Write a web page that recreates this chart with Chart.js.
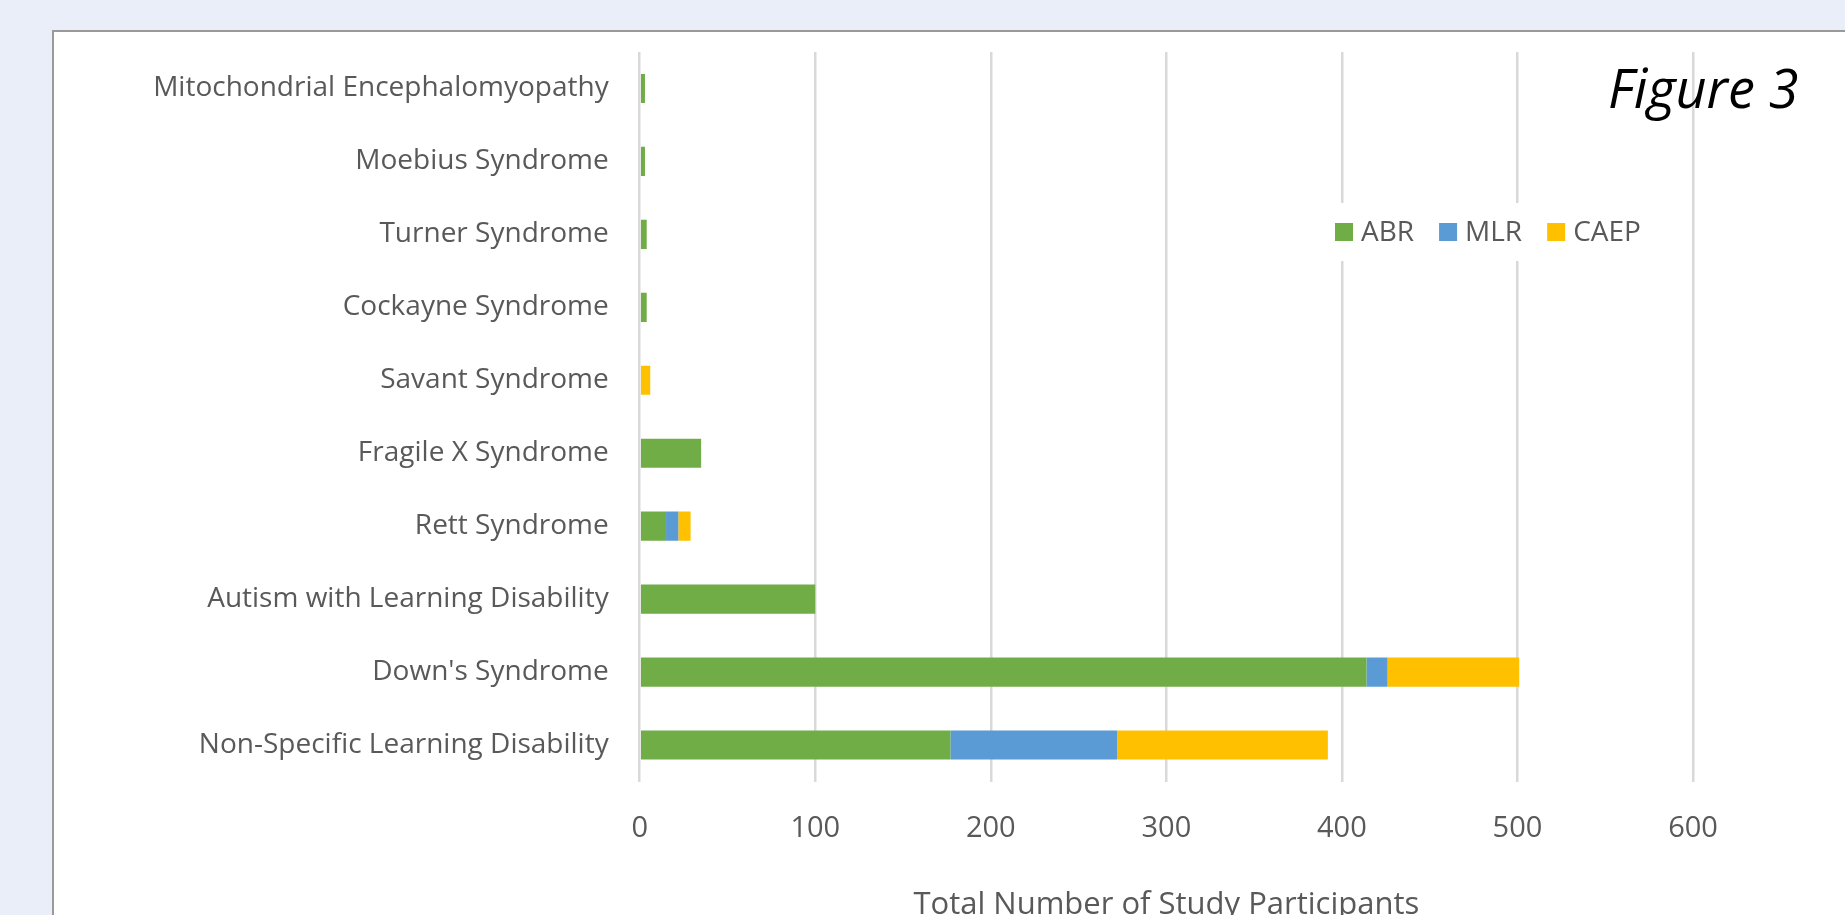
<!DOCTYPE html>
<html>
<head>
<meta charset="utf-8">
<script src="https://cdn.jsdelivr.net/npm/chart.js@4.4.1/dist/chart.umd.min.js"></script>
<style>
  html, body { margin: 0; padding: 0; width: 1845px; height: 915px; overflow: hidden; background: #e9eef9; }
  #panel { position: absolute; left: 52px; top: 30px; width: 1820px; height: 920px; background: #ffffff; border-left: 2px solid #9a9a9a; border-top: 2px solid #9a9a9a; }
  #c { position: absolute; left: 0; top: 0; }
</style>
</head>
<body>
<div id="panel"></div>
<canvas id="c" width="1845" height="915"></canvas>
<script>
const categories = [
  'Mitochondrial Encephalomyopathy',
  'Moebius Syndrome',
  'Turner Syndrome',
  'Cockayne Syndrome',
  'Savant Syndrome',
  'Fragile X Syndrome',
  'Rett Syndrome',
  'Autism with Learning Disability',
  "Down's Syndrome",
  'Non-Specific Learning Disability'
];
const abrValues  = [3, 3, 4, 4, 0, 35, 15, 100, 414, 177];
const mlrValues  = [0, 0, 0, 0, 0, 0, 7, 0, 12, 95];
const caepValues = [0, 0, 0, 0, 6, 0, 7, 0, 75, 120];
const seriesNames = ['ABR', 'MLR', 'CAEP'];
const seriesColors = ['#70AD47', '#5B9BD5', '#FFC000'];
const xTickValues = [0, 100, 200, 300, 400, 500, 600];
const xAxisTitle = 'Total Number of Study Participants';
const figureLabel = 'Figure 3';

const FONT = '"Open Sans", "Noto Sans", sans-serif';
const TEXT = '#595959';

const overlayPlugin = {
  id: 'overlay',
  afterDraw(chart) {
    const ctx = chart.ctx;
    ctx.save();
    ctx.font = '28px ' + FONT;
    const box = 18, gapText = 8, gapItem = 25;
    let x = 1335;
    const cy = 232;
    const widths = seriesNames.map(n => ctx.measureText(n).width);
    const total = widths.reduce((a, w) => a + box + gapText + w, 0) + gapItem * (seriesNames.length - 1);
    ctx.fillStyle = '#ffffff';
    ctx.fillRect(x - 10, cy - 29, total + 20, 58);
    ctx.textBaseline = 'middle';
    ctx.textAlign = 'left';
    chart.data.datasets.forEach((ds, i) => {
      ctx.fillStyle = ds.backgroundColor;
      ctx.fillRect(x, cy - box / 2, box, box);
      ctx.fillStyle = TEXT;
      ctx.fillText(ds.label, x + box + gapText, cy + 1);
      x += box + gapText + widths[i] + gapItem;
    });
    ctx.font = 'italic 54px ' + FONT;
    ctx.fillStyle = '#000000';
    ctx.textBaseline = 'alphabetic';
    ctx.fillText(figureLabel, 1608, 108);
    ctx.restore();
  }
};

new Chart(document.getElementById('c'), {
  type: 'bar',
  data: {
    labels: categories,
    datasets: [
      { label: seriesNames[0], data: abrValues,  backgroundColor: seriesColors[0] },
      { label: seriesNames[1], data: mlrValues,  backgroundColor: seriesColors[1] },
      { label: seriesNames[2], data: caepValues, backgroundColor: seriesColors[2] }
    ]
  },
  options: {
    responsive: false,
    animation: false,
    indexAxis: 'y',
    datasets: { bar: { categoryPercentage: 1, barPercentage: 0.4, borderWidth: 0 } },
    layout: { padding: { left: 0, top: 52, right: 152, bottom: 0 } },
    plugins: { legend: { display: false }, tooltip: { enabled: false } },
    scales: {
      x: {
        stacked: true,
        min: 0,
        max: 600,
        afterBuildTicks: s => { s.ticks = xTickValues.map(v => ({ value: v })); },
        ticks: { padding: 30, color: TEXT, font: { family: FONT, size: 29 } },
        grid: { color: '#d9d9d9', lineWidth: 2.5, drawTicks: false },
        border: { display: false },
        title: { display: true, text: xAxisTitle, color: TEXT, font: { family: FONT, size: 31, lineHeight: 1 }, padding: { top: 0, bottom: -6 } },
        afterFit: s => { s.height = 915 - 781.5; }
      },
      y: {
        stacked: true,
        grid: { display: false },
        border: { display: false },
        ticks: { padding: 23, color: TEXT, font: { family: FONT, size: 28 } },
        afterFit: s => { s.width = 639.7; }
      }
    }
  },
  plugins: [overlayPlugin]
});
</script>
</body>
</html>
